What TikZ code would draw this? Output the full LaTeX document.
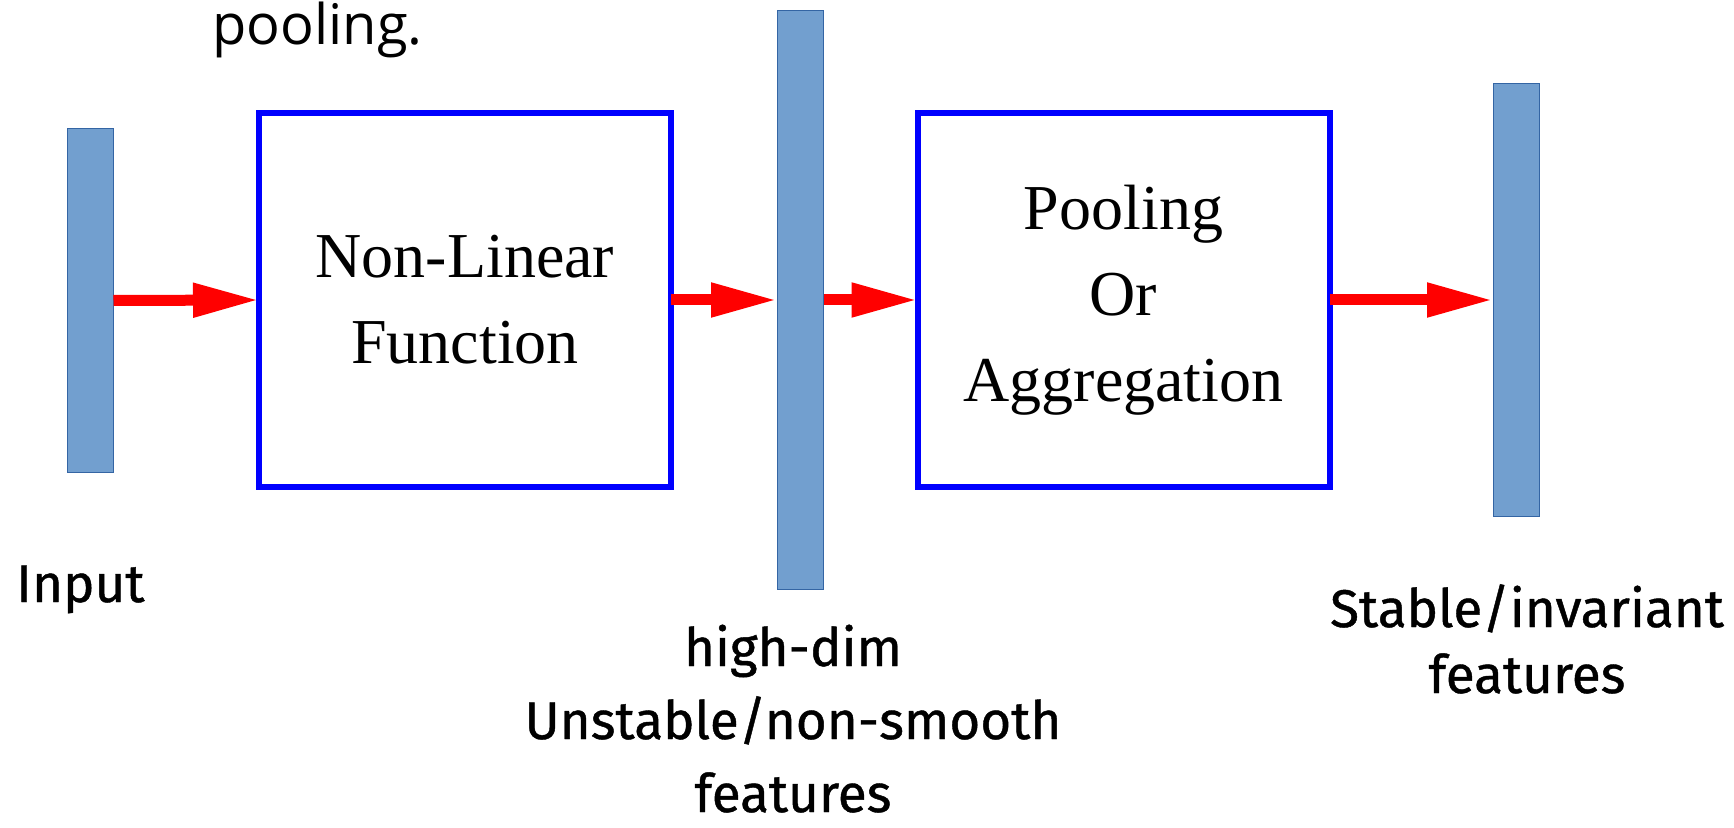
\documentclass[tikz,border=0pt]{standalone}
\usepackage{fontspec}
\setmainfont{Liberation Serif}
\newfontfamily\labelfont[BoldFont={Fira Sans}, BoldFeatures={FakeBold=0.8}]{Fira Sans}
\newfontfamily\notefont{Open Sans}
\usetikzlibrary{arrows.meta}
\definecolor{barfill}{HTML}{729FCF}
\definecolor{barline}{HTML}{3465A4}
\tikzset{
  bar/.style={draw=barline, fill=barfill, line width=0.5pt, minimum width=23pt, inner sep=0pt},
  stage/.style={draw=blue, line width=3pt, minimum width=206pt, minimum height=187pt,
    align=center, inner sep=0pt, outer sep=0pt, font=\fontsize{32}{43}\selectfont},
  flow/.style={red, line width=5.5pt, -{Triangle[length=33pt,width=16pt]}},
  caption/.style={align=center, inner sep=0pt, font=\labelfont\bfseries\fontsize{26.5}{37.5}\selectfont},
}
\begin{document}
\begin{tikzpicture}[x=0.5pt, y=-0.5pt]
  \useasboundingbox (0,0) rectangle (1734,828);

  \node[anchor=base west, inner sep=0pt, font=\notefont\fontsize{28}{32}\selectfont] (note) at (212,45) {pooling.};

  % feature vectors
  \node[bar, minimum height=171.5pt] (input) at (90,300.5) {};
  \node[bar, minimum height=289pt] (hidden) at (800.5,300) {};
  \node[bar, minimum height=216pt] (output) at (1516.5,300) {};

  % processing stages
  \node[stage] (nonlin) at (465,300) {Non-Linear\\Function};
  \node[stage] (pool) at (1123.5,300) {Pooling\\Or\\Aggregation};

  \draw[flow] (input.east) -- (nonlin.west);
  \draw[flow] (nonlin.east) -- (hidden.west);
  \draw[flow] (hidden.east) -- (pool.west);
  \draw[flow] (pool.east) -- (output.west);

  % captions (base = last line)
  \node[caption, anchor=base west] (inlabel) at (16,602) {Input};
  \node[caption, anchor=base, font=\labelfont\bfseries\fontsize{26.5}{36.5}\selectfont] (hiddenlabel) at (793,812) {high-dim\\Unstable/non-smooth\\features};
  \node[caption, anchor=base, font=\labelfont\bfseries\fontsize{26.5}{33}\selectfont] (outlabel) at (1527,693) {Stable/invariant\\features};
\end{tikzpicture}
\end{document}
